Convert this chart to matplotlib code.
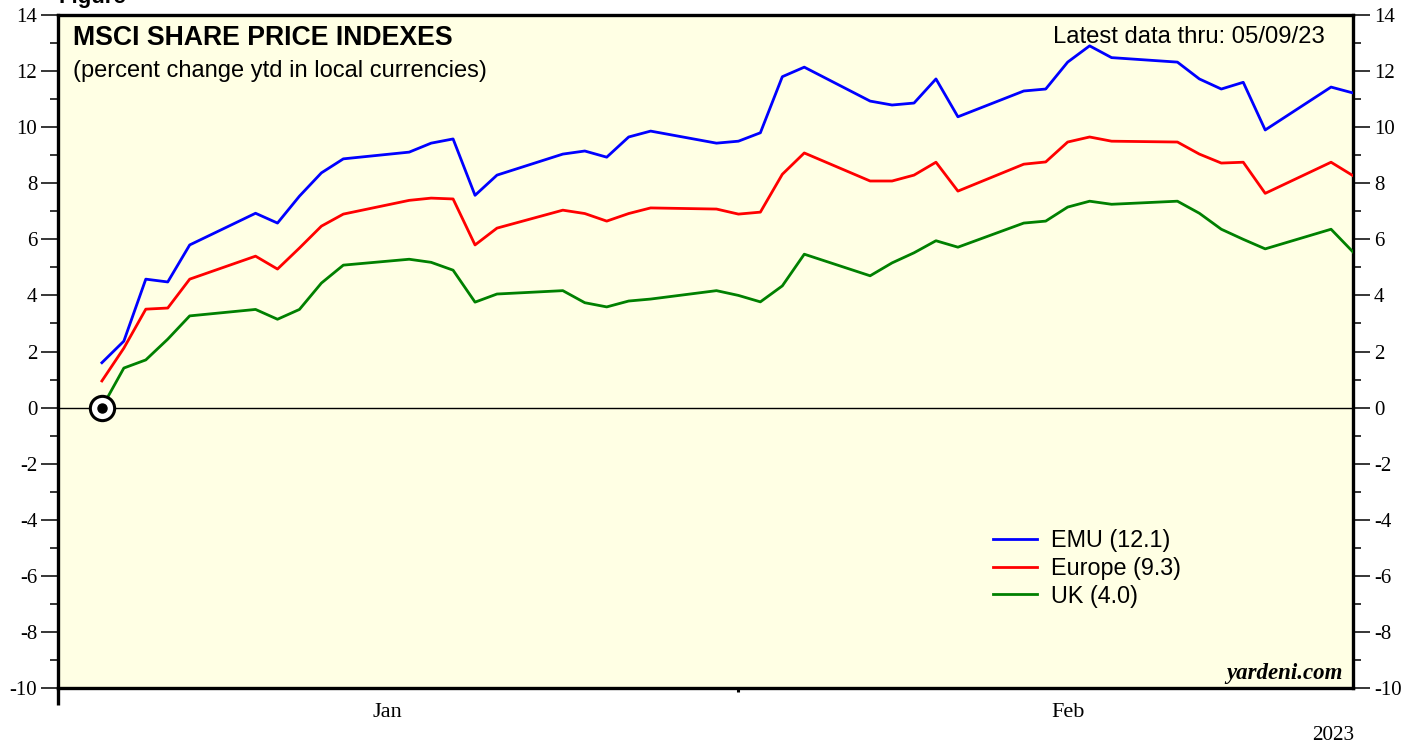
import datetime as dt
import matplotlib
matplotlib.use("Agg")
import matplotlib.pyplot as plt
import pandas as pd

# trading days shown on the chart
dates = pd.bdate_range("2023-01-02", "2023-02-28")

emu = [1.6, 2.37, 4.58, 4.48, 5.8, 6.93, 6.58, 7.54, 8.37, 8.87,
       9.11, 9.43, 9.58, 7.57, 8.29, 9.04, 9.15, 8.93, 9.65, 9.86,
       9.43, 9.5, 9.8, 11.8, 12.14, 10.93, 10.79, 10.86, 11.72, 10.37,
       11.29, 11.36, 12.32, 12.9, 12.48, 12.32, 11.72, 11.36, 11.6, 9.9,
       11.43, 11.22]
europe = [0.95, 2.12, 3.51, 3.55, 4.58, 5.4, 4.94, 5.69, 6.47, 6.9,
          7.39, 7.47, 7.44, 5.8, 6.4, 7.04, 6.92, 6.65, 6.92, 7.12,
          7.08, 6.9, 6.97, 8.32, 9.08, 8.08, 8.08, 8.29, 8.75, 7.72,
          8.68, 8.76, 9.47, 9.65, 9.5, 9.47, 9.04, 8.72, 8.75, 7.64,
          8.75, 8.27]
uk = [0.0, 1.41, 1.7, 2.44, 3.27, 3.5, 3.15, 3.5, 4.44, 5.08,
      5.29, 5.18, 4.9, 3.76, 4.05, 4.17, 3.74, 3.59, 3.8, 3.87,
      4.17, 4.0, 3.77, 4.34, 5.47, 4.7, 5.16, 5.52, 5.95, 5.72,
      6.58, 6.65, 7.15, 7.36, 7.25, 7.36, 6.93, 6.36, 6.0, 5.66,
      6.36, 5.55]

labels = ["EMU (12.1)", "Europe (9.3)", "UK (4.0)"]
colors = ["#0000ff", "#ff0000", "#008000"]

month_labels = ["Jan", "Feb"]
month_label_pos = [dt.datetime(2023, 1, 15), dt.datetime(2023, 2, 15)]
month_ends = [dt.datetime(2023, 1, 31)]

plt.rcParams["font.family"] = "Liberation Serif"
plt.rcParams["axes.unicode_minus"] = False
sans = "Liberation Sans"

fig = plt.figure(figsize=(14.19, 7.47), dpi=100)
ax = fig.add_axes([58/1419, 1 - 688/747, (1353 - 58)/1419, (688 - 15)/747])
ax.set_facecolor("#ffffe4")

for s in ax.spines.values():
    s.set_linewidth(2.4)

ax.axhline(0, color="black", lw=1.0, zorder=1)

for vals, lab, c in zip([emu, europe, uk], labels, colors):
    ax.plot(dates, vals, color=c, lw=2.0, label=lab, zorder=3)

# base marker
ax.plot([dates[0]], [0], "o", ms=17.5, mfc="white", mec="black", mew=2.2, zorder=4)
ax.plot([dates[0]], [0], "o", ms=6.5, color="black", zorder=5)

ax.set_xlim(dt.datetime(2022, 12, 31), dt.datetime(2023, 2, 28))
ax.set_ylim(-10, 14)

ax.set_yticks(range(-10, 15, 2))
ax.set_yticks(range(-9, 14, 2), minor=True)
ax.tick_params(axis="y", which="major", length=12, width=1.1, left=True, right=True,
               labelleft=True, labelright=True, labelsize=15, pad=3)
ax.tick_params(axis="y", which="minor", length=6, width=1.1, left=True, right=True)

ax.set_xticks(month_ends)
ax.set_xticklabels([])
ax.set_xticks(month_label_pos, minor=True)
ax.set_xticklabels(month_labels, minor=True)
ax.tick_params(axis="x", which="major", length=3, width=2.2)
ax.tick_params(axis="x", which="minor", length=0, labelsize=16, pad=11)

# long year tick at left edge
ax.plot([0, 0], [0, -0.026], transform=ax.transAxes, color="black", lw=2.4,
        clip_on=False, solid_capstyle="butt")

ax.text(0.0116, 0.9554, "MSCI SHARE PRICE INDEXES", transform=ax.transAxes,
        fontsize=19.2, fontweight="bold", family=sans, va="baseline")
ax.text(0.0116, 0.9079, "(percent change ytd in local currencies)", transform=ax.transAxes,
        fontsize=17, family=sans, va="baseline")
ax.text(0.9784, 0.9584, "Latest data thru: 05/09/23", transform=ax.transAxes,
        fontsize=17.2, family=sans, va="baseline", ha="right")
ax.text(0.9923, 0.0134, "yardeni.com", transform=ax.transAxes, fontsize=16.5,
        fontweight="bold", fontstyle="italic", va="baseline", ha="right")

leg = ax.legend(loc="upper left", bbox_to_anchor=(0.722, 0.236), frameon=False,
                prop={"family": sans, "size": 16.8}, handlelength=1.9,
                handletextpad=0.6, labelspacing=0.2, borderpad=0, borderaxespad=0)

fig.text(1333/1419, 1 - 735/747, "2023", ha="center", va="center", fontsize=15.3)
fig.text(58/1419, 1 - 3/747, "Figure", fontsize=16, fontweight="bold",
         family=sans, va="baseline")

fig.savefig("out.png", dpi=100)
